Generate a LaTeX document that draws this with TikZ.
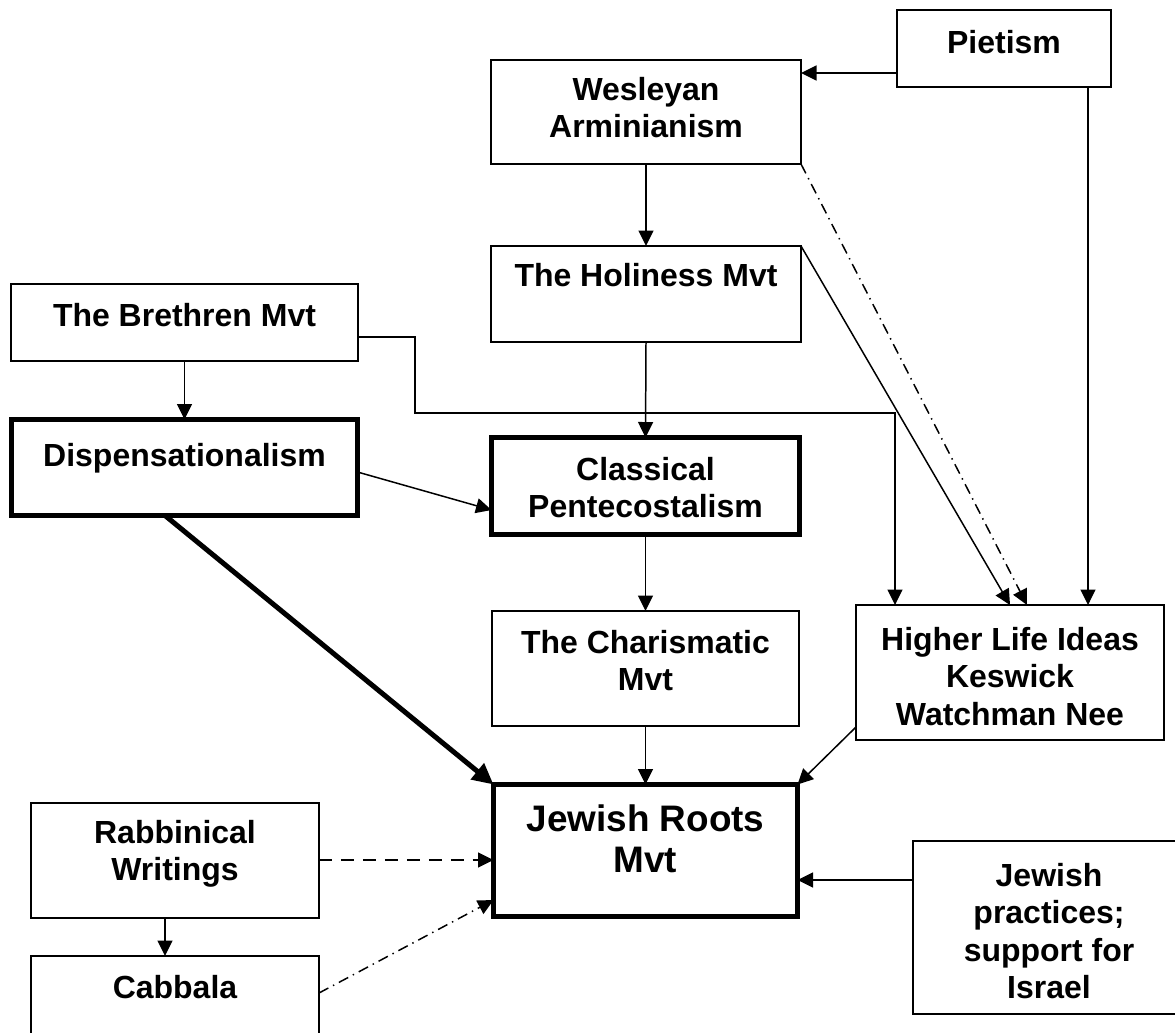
\documentclass[tikz,border=0pt]{standalone}
\usepackage{fontspec}
\setmainfont{Liberation Sans}
\usetikzlibrary{arrows.meta}
\newdimen\pxu \pxu=0.02cm
\newcommand\bt[4]{\parbox[c][#2\pxu][t]{#1\pxu}{\centering\vspace*{#3\pxu}#4\par}}
\begin{document}
\begin{tikzpicture}[x=0.02cm,y=-0.02cm,
  font=\bfseries\fontsize{18.2pt}{21.34pt}\selectfont,
  box/.style={draw, line width=0.85pt, inner sep=0pt, outer sep=0pt, anchor=north west, fill=white},
  thickbox/.style={box, line width=2.85pt},
  conn/.style={line width=0.85pt, -{Triangle[length=3.1mm,width=3mm]}},
  heavyconn/.style={line width=2.85pt, -{Triangle[length=4.2mm,width=4mm]}},
  dashedconn/.style={conn, dash pattern=on 7.4pt off 5.1pt},
  dashdotconn/.style={conn, dash pattern=on 6pt off 3pt on 0.8pt off 3pt}]
\path[use as bounding box, clip] (0,0) rectangle (1175,1032);
% boxes
\node[box] (pietism) at (897,10) {\bt{214}{77}{20}{Pietism}};
\node[box] (wesleyan) at (491,60) {\bt{310}{104}{17}{Wesleyan\\Arminianism}};
\node[box] (holiness) at (491,246) {\bt{310}{96}{17}{The Holiness Mvt}};
\node[box] (brethren) at (11,284) {\bt{347}{77}{19}{The Brethren Mvt}};
\node[thickbox] (disp) at (11.5,419.5) {\bt{346}{96}{23.5}{Dispensationalism}};
\node[thickbox] (classical) at (491.5,437.5) {\bt{308}{97}{19.5}{Classical\\Pentecostalism}};
\node[box] (charis) at (492,611) {\bt{307}{115}{19}{The Charismatic\\Mvt}};
\node[box] (higher) at (856,605) {\bt{308}{135}{22}{Higher Life Ideas\\Keswick\\Watchman Nee}};
\node[thickbox] (jr) at (493.5,784.5) {\bt{304}{132}{20.5}{\fontsize{21pt}{23.3pt}\selectfont Jewish Roots\\Mvt}};
\node[box] (rabb) at (31,803) {\bt{288}{115}{17}{Rabbinical\\Writings}};
\node[box] (cabbala) at (31,956) {\bt{288}{110}{19}{Cabbala}};
\node[box] (practices) at (913,841) {\bt{272}{173}{22}{Jewish\\practices;\\support for\\Israel}};
% connectors
\coordinate (bend) at (415,413);
\draw[conn] (pietism.west |- 0,73) -- (wesleyan.east |- 0,73);
\draw[conn] (wesleyan.south) -- (holiness.north);
\draw[conn] (holiness.south) -- (classical.north);
\draw[conn] (classical.south) -- (charis.north);
\draw[conn] (charis.south) -- (jr.north);
\draw[conn] (brethren.south) -- (disp.north);
\draw[conn] (brethren.east |- 0,337) -| (bend) -| (higher.north -| 895,0);
\draw[conn] (holiness.north east) -- (higher.north -| 1010,0);
\draw[dashdotconn] (wesleyan.south east) -- (higher.north -| 1027,0);
\draw[conn] (pietism.south -| 1088,0) -- (higher.north -| 1088,0);
\draw[conn] (disp.east |- 0,472) -- (classical.west |- 0,510);
\draw[heavyconn] (disp.south -| 165,0) -- (jr.north west);
\draw[conn] (higher.west |- 0,727) -- (jr.north east);
\draw[dashedconn] (rabb.east |- 0,860) -- (jr.west |- 0,860);
\draw[conn] (rabb.south -| 165,0) -- (cabbala.north -| 165,0);
\draw[dashdotconn] (cabbala.east |- 0,993) -- (jr.west |- 0,900);
\draw[conn] (practices.west |- 0,880) -- (jr.east |- 0,880);
\end{tikzpicture}
\end{document}
